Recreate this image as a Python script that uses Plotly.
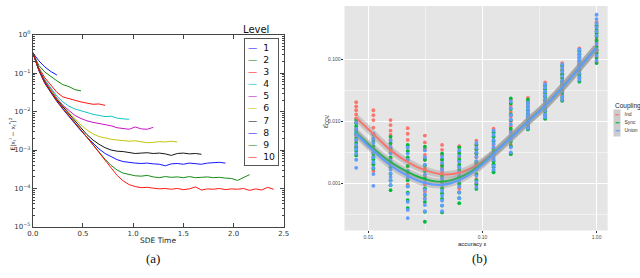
import plotly.graph_objects as go

# ---------------- panel (a) data ----------------
sde_time = [0.00, 0.06, 0.12, 0.18, 0.24, 0.30, 0.36, 0.42, 0.48, 0.54, 0.60, 0.66, 0.72, 0.78,
            0.84, 0.90, 0.96, 1.02, 1.08, 1.14, 1.20, 1.26, 1.32, 1.38, 1.44, 1.50, 1.56, 1.62,
            1.68, 1.74, 1.80, 1.86, 1.92, 1.98, 2.04, 2.10, 2.16, 2.22, 2.28, 2.34, 2.40]

level_1 = [0.339, 0.209, 0.145, 0.110, 0.0891]
level_2 = [0.339, 0.158, 0.107, 0.0813, 0.0631, 0.0501, 0.0447, 0.0372, 0.0347]
level_3 = [0.339, 0.138, 0.0759, 0.0479, 0.0316, 0.0240, 0.0214, 0.0195, 0.0178, 0.0166, 0.0155,
           0.0158, 0.0145]
level_4 = [0.339, 0.132, 0.0676, 0.0398, 0.0251, 0.0178, 0.0138, 0.0117, 0.0105, 0.00933, 0.00851,
           0.00794, 0.00741, 0.00759, 0.00676, 0.00646, 0.00631]
level_5 = [0.339, 0.129, 0.0631, 0.0363, 0.0224, 0.0145, 0.0105, 0.00794, 0.00661, 0.00575, 0.00525,
           0.00490, 0.00468, 0.00427, 0.00380, 0.00355, 0.00347, 0.00398, 0.00355, 0.00347, 0.00389]
level_6 = [0.339, 0.126, 0.0603, 0.0347, 0.0214, 0.0138, 0.00933, 0.00631, 0.00447, 0.00331, 0.00263,
           0.00224, 0.00204, 0.00191, 0.00182, 0.00174, 0.00170, 0.00174, 0.00162, 0.00155, 0.00158,
           0.00166, 0.00162, 0.00170, 0.00162]
level_7 = [0.339, 0.123, 0.0589, 0.0331, 0.0204, 0.0132, 0.00871, 0.00575, 0.00380, 0.00251, 0.00182,
           0.00141, 0.00115, 0.00100, 0.000933, 0.000912, 0.000871, 0.000813, 0.000832, 0.000851,
           0.000813, 0.000832, 0.000794, 0.000724, 0.000813, 0.000832, 0.000794, 0.000813, 0.000776]
level_8 = [0.339, 0.117, 0.0537, 0.0302, 0.0182, 0.0115, 0.00741, 0.00479, 0.00316, 0.00214, 0.00148,
           0.00107, 0.000813, 0.000661, 0.000562, 0.000501, 0.000468, 0.000457, 0.000447, 0.000457,
           0.000437, 0.000427, 0.000389, 0.000437, 0.000447, 0.000427, 0.000457, 0.000437, 0.000427,
           0.000457, 0.000468, 0.000479, 0.000457]
level_9 = [0.339, 0.120, 0.0562, 0.0316, 0.0191, 0.0120, 0.00794, 0.00513, 0.00331, 0.00214, 0.00138,
           0.000891, 0.000575, 0.000398, 0.000302, 0.000251, 0.000229, 0.000214, 0.000209, 0.000219,
           0.000200, 0.000191, 0.000204, 0.000195, 0.000200, 0.000191, 0.000204, 0.000191, 0.000195,
           0.000200, 0.000191, 0.000195, 0.000186, 0.000182, 0.000162, 0.000191, 0.000229]
level_10 = [0.339, 0.120, 0.0562, 0.0316, 0.0191, 0.0120, 0.00794, 0.00513, 0.00331, 0.00214, 0.00135,
            0.000851, 0.000525, 0.000331, 0.000219, 0.000158, 0.000126, 0.000112, 0.000105, 0.000107,
            0.000102, 9.77e-5, 1.00e-4, 9.55e-5, 1.00e-4, 9.33e-5, 9.77e-5, 1.10e-4, 9.12e-5, 9.77e-5,
            9.55e-5, 1.00e-4, 9.33e-5, 9.77e-5, 9.55e-5, 1.00e-4, 8.91e-5, 9.77e-5, 9.12e-5, 1.07e-4,
            9.55e-5]

levels = [level_1, level_2, level_3, level_4, level_5, level_6, level_7, level_8, level_9, level_10]
level_names = ["1", "2", "3", "4", "5", "6", "7", "8", "9", "10"]
level_colors = ["#0000ff", "#008000", "#ff0000", "#00bfbf", "#bf00bf", "#bfbf00", "#000000",
                "#0000ff", "#008000", "#ff0000"]

a_xticks = [0.0, 0.5, 1.0, 1.5, 2.0, 2.5]
a_xticktext = ["0.0", "0.5", "1.0", "1.5", "2.0", "2.5"]
a_yticks = [1e-5, 1e-4, 1e-3, 1e-2, 1e-1, 1e0]
a_yticktext = ["10<sup>−5</sup>", "10<sup>−4</sup>", "10<sup>−3</sup>", "10<sup>−2</sup>",
               "10<sup>−1</sup>", "10<sup>0</sup>"]

# ---------------- panel (b) data ----------------
accuracy = [0.0078125, 0.01105, 0.015625, 0.0221, 0.03125, 0.0442, 0.0625, 0.0884, 0.125,
            0.177, 0.25, 0.354, 0.5, 0.707, 1.0]

cov_ind = [
    [2.04e-2, 1.51e-2, 1.29e-2, 1.12e-2, 9.55e-3, 7.59e-3, 3.98e-3, 1.74e-2, 6.03e-3, 4.90e-3],
    [1.51e-2, 1.05e-2, 7.94e-3, 6.31e-3, 5.01e-3, 3.55e-3, 1.58e-3, 1.26e-2, 2.51e-3, 2.00e-3],
    [1.05e-2, 7.08e-3, 5.01e-3, 3.80e-3, 3.16e-3, 2.51e-3, 1.91e-3, 8.71e-3, 6.03e-3, 4.37e-3],
    [7.76e-3, 5.01e-3, 3.31e-3, 2.40e-3, 1.91e-3, 1.41e-3, 9.55e-4, 6.31e-3, 4.07e-3, 1.17e-3],
    [5.89e-3, 3.55e-3, 2.40e-3, 1.74e-3, 1.32e-3, 9.55e-4, 5.75e-4, 4.57e-3, 2.88e-3, 7.41e-4],
    [4.17e-3, 2.82e-3, 2.00e-3, 1.51e-3, 1.20e-3, 1.05e-3, 9.12e-4, 3.47e-3, 2.40e-3, 1.74e-3],
    [3.98e-3, 2.63e-3, 1.91e-3, 1.51e-3, 1.20e-3, 9.55e-4, 7.24e-4, 3.24e-3, 2.24e-3, 8.32e-4],
    [4.90e-3, 3.55e-3, 2.63e-3, 2.09e-3, 1.74e-3, 1.38e-3, 1.00e-3, 4.17e-3, 3.02e-3, 1.17e-3],
    [7.59e-3, 5.62e-3, 4.17e-3, 3.16e-3, 2.51e-3, 2.00e-3, 1.58e-3, 6.61e-3, 3.63e-3, 2.24e-3],
    [2.24e-2, 1.41e-2, 1.00e-2, 7.08e-3, 5.62e-3, 4.17e-3, 3.02e-3, 1.78e-2, 1.20e-2, 8.32e-3],
    [2.40e-2, 1.91e-2, 1.51e-2, 1.20e-2, 1.00e-2, 8.71e-3, 7.59e-3, 2.14e-2, 1.35e-2, 9.33e-3],
    [4.27e-2, 3.31e-2, 2.51e-2, 1.91e-2, 1.58e-2, 1.32e-2, 1.12e-2, 3.72e-2, 2.88e-2, 2.19e-2],
    [8.71e-2, 6.61e-2, 5.01e-2, 3.80e-2, 3.16e-2, 2.63e-2, 2.19e-2, 7.59e-2, 5.75e-2, 4.37e-2],
    [1.51e-1, 1.20e-1, 9.55e-2, 7.59e-2, 6.31e-2, 5.25e-2, 4.47e-2, 1.35e-1, 1.07e-1, 8.51e-2],
    [3.98e-1, 2.82e-1, 2.09e-1, 1.66e-1, 1.32e-1, 1.10e-1, 8.91e-2, 3.39e-1, 2.40e-1, 1.86e-1],
]
cov_sync = [
    [1.05e-2, 8.32e-3, 7.08e-3, 6.31e-3, 5.37e-3, 4.47e-3, 2.82e-3, 9.33e-3, 3.80e-3, 3.31e-3],
    [6.17e-3, 4.68e-3, 3.98e-3, 3.55e-3, 3.02e-3, 2.40e-3, 1.74e-3, 5.37e-3, 2.69e-3, 2.04e-3],
    [5.62e-3, 3.55e-3, 2.63e-3, 2.19e-3, 1.78e-3, 1.12e-3, 7.76e-4, 4.47e-3, 1.41e-3, 9.33e-4],
    [4.17e-3, 2.63e-3, 1.91e-3, 1.51e-3, 1.12e-3, 7.08e-4, 3.98e-4, 3.31e-3, 8.91e-4, 5.37e-4],
    [3.89e-3, 2.40e-3, 1.58e-3, 1.20e-3, 8.32e-4, 5.01e-4, 2.40e-4, 1.95e-3, 6.46e-4, 3.47e-4],
    [3.02e-3, 1.91e-3, 1.32e-3, 1.05e-3, 8.32e-4, 5.62e-4, 3.39e-4, 2.40e-3, 6.92e-4, 4.37e-4],
    [3.80e-3, 2.40e-3, 1.66e-3, 1.26e-3, 1.00e-3, 7.08e-4, 4.79e-4, 3.02e-3, 2.00e-3, 5.75e-4],
    [4.17e-3, 3.02e-3, 2.24e-3, 1.78e-3, 1.41e-3, 1.12e-3, 8.13e-4, 3.55e-3, 2.00e-3, 9.55e-4],
    [6.61e-3, 4.79e-3, 3.63e-3, 2.88e-3, 2.29e-3, 1.82e-3, 1.51e-3, 5.62e-3, 3.24e-3, 2.04e-3],
    [2.34e-2, 1.58e-2, 1.05e-2, 7.59e-3, 5.50e-3, 3.98e-3, 2.95e-3, 1.95e-2, 1.29e-2, 4.68e-3],
    [2.24e-2, 1.74e-2, 1.32e-2, 1.10e-2, 9.33e-3, 8.32e-3, 7.41e-3, 2.00e-2, 1.51e-2, 1.20e-2],
    [3.80e-2, 2.88e-2, 2.19e-2, 1.78e-2, 1.45e-2, 1.26e-2, 1.10e-2, 3.31e-2, 2.51e-2, 1.58e-2],
    [7.94e-2, 5.75e-2, 4.37e-2, 3.47e-2, 2.88e-2, 2.40e-2, 2.14e-2, 6.76e-2, 5.01e-2, 3.89e-2],
    [1.38e-1, 1.05e-1, 8.32e-2, 6.92e-2, 5.75e-2, 5.01e-2, 4.37e-2, 1.20e-1, 9.33e-2, 7.59e-2],
    [3.55e-1, 2.63e-1, 2.00e-1, 1.58e-1, 1.26e-1, 1.05e-1, 8.71e-2, 3.02e-1, 2.29e-1, 1.41e-1],
]
cov_union = [
    [9.55e-3, 7.59e-3, 6.61e-3, 6.03e-3, 5.01e-3, 3.55e-3, 1.78e-3, 4.17e-3, 3.02e-3, 2.40e-3],
    [6.31e-3, 4.47e-3, 3.63e-3, 3.16e-3, 2.63e-3, 1.78e-3, 9.12e-4, 5.25e-3, 2.19e-3, 1.41e-3],
    [4.90e-3, 3.02e-3, 2.34e-3, 2.00e-3, 1.66e-3, 1.26e-3, 9.33e-4, 3.89e-3, 1.45e-3, 1.10e-3],
    [3.80e-3, 2.40e-3, 1.58e-3, 1.26e-3, 8.91e-4, 5.01e-4, 2.75e-4, 3.02e-3, 6.76e-4, 3.72e-4],
    [3.39e-3, 2.00e-3, 1.38e-3, 1.05e-3, 7.94e-4, 5.62e-4, 3.55e-4, 2.63e-3, 6.61e-4, 4.47e-4],
    [2.69e-3, 1.66e-3, 1.20e-3, 9.55e-4, 7.59e-4, 5.25e-4, 3.55e-4, 2.14e-3, 6.31e-4, 4.37e-4],
    [3.39e-3, 2.24e-3, 1.51e-3, 1.12e-3, 8.91e-4, 7.08e-4, 5.75e-4, 2.75e-3, 1.82e-3, 1.32e-3],
    [4.47e-3, 3.16e-3, 2.29e-3, 1.66e-3, 1.32e-3, 1.05e-3, 8.71e-4, 3.72e-3, 2.69e-3, 1.95e-3],
    [7.08e-3, 5.01e-3, 3.80e-3, 3.02e-3, 2.40e-3, 1.91e-3, 1.66e-3, 6.03e-3, 4.37e-3, 2.69e-3],
    [2.09e-2, 1.26e-2, 8.91e-3, 6.61e-3, 5.01e-3, 3.80e-3, 3.16e-3, 1.62e-2, 1.07e-2, 5.75e-3],
    [2.00e-2, 1.58e-2, 1.26e-2, 1.05e-2, 9.12e-3, 7.94e-3, 7.76e-3, 1.78e-2, 1.41e-2, 1.15e-2],
    [3.98e-2, 3.02e-2, 2.29e-2, 1.74e-2, 1.51e-2, 1.29e-2, 1.17e-2, 3.47e-2, 2.63e-2, 2.00e-2],
    [8.32e-2, 6.31e-2, 4.57e-2, 3.63e-2, 3.02e-2, 2.51e-2, 2.24e-2, 7.24e-2, 5.37e-2, 4.07e-2],
    [1.45e-1, 1.12e-1, 8.91e-2, 7.24e-2, 6.03e-2, 5.13e-2, 4.68e-2, 1.26e-1, 1.00e-1, 7.94e-2],
    [5.25e-1, 3.31e-1, 2.40e-1, 1.78e-1, 1.41e-1, 1.15e-1, 9.55e-2, 4.47e-1, 3.80e-1, 2.82e-1],
]

smooth_ind = [0.0114, 0.00624, 0.00343, 0.00220, 0.00163, 0.00140, 0.00148, 0.00195, 0.00304,
              0.00553, 0.0101, 0.0179, 0.0353, 0.0741, 0.157]
smooth_sync = [0.00662, 0.00364, 0.00220, 0.00152, 0.00117, 0.00106, 0.00124, 0.00177, 0.00304,
               0.00547, 0.00994, 0.0179, 0.0349, 0.0733, 0.156]
smooth_union = [0.00638, 0.00335, 0.00195, 0.00132, 0.00101, 0.000942, 0.00113, 0.00167, 0.00297,
                0.00540, 0.00982, 0.0177, 0.0349, 0.0733, 0.156]

coupling_names = ["Ind", "Sync", "Union"]
coupling_colors = ["#F8766D", "#00BA38", "#619CFF"]

b_xticks = [0.01, 0.1, 1.0]
b_xticktext = ["0.01", "0.10", "1.00"]
b_yticks = [0.001, 0.01, 0.1]
b_yticktext = ["0.001", "0.010", "0.100"]

# ---------------- figure ----------------
fig = go.Figure()

for name, vals, col in zip(level_names, levels, level_colors):
    fig.add_trace(go.Scatter(x=sde_time[:len(vals)], y=vals, mode="lines", name=name,
                             line=dict(color=col, width=1), opacity=0.9,
                             xaxis="x", yaxis="y", showlegend=False))

for name, groups, col in zip(coupling_names, [cov_ind, cov_sync, cov_union], coupling_colors):
    xs = [e for e, g in zip(accuracy, groups) for _ in g]
    ys = [v for g in groups for v in g]
    fig.add_trace(go.Scatter(x=xs, y=ys, mode="markers", name=name,
                             marker=dict(color=col, size=3.8, line=dict(width=0)),
                             xaxis="x2", yaxis="y2", showlegend=False))

for name, sm, col in zip(coupling_names, [smooth_ind, smooth_sync, smooth_union], coupling_colors):
    fig.add_trace(go.Scatter(x=accuracy, y=sm, mode="lines", line=dict(color="rgba(150,150,150,0.4)",
                             width=7, shape="spline"), xaxis="x2", yaxis="y2",
                             showlegend=False, hoverinfo="skip"))
    fig.add_trace(go.Scatter(x=accuracy, y=sm, mode="lines", name=name + " fit",
                             line=dict(color=col, width=2, shape="spline"),
                             xaxis="x2", yaxis="y2", showlegend=False))

frame = "#444444"
fig.update_layout(
    width=640, height=278, margin=dict(l=0, r=0, t=0, b=0),
    paper_bgcolor="white", plot_bgcolor="white", showlegend=False,
    xaxis=dict(domain=[0.0427, 0.4422], range=[0, 2.5], anchor="y",
               tickmode="array", tickvals=a_xticks, ticktext=a_xticktext,
               ticks="inside", ticklen=4, tickcolor=frame, mirror="ticks",
               showline=True, linecolor=frame, linewidth=1, showgrid=False, zeroline=False,
               tickfont=dict(family="DejaVu Sans", size=7, color="#333")),
    yaxis=dict(domain=[0.175, 0.8896], type="log", range=[-5, 0], anchor="x",
               tickmode="array", tickvals=a_yticks, ticktext=a_yticktext,
               ticks="inside", ticklen=4, tickcolor=frame, mirror="ticks",
               showline=True, linecolor=frame, linewidth=1, showgrid=False, zeroline=False,
               minor=dict(ticks="inside", ticklen=2, tickcolor=frame, dtick="D1", showgrid=False),
               tickfont=dict(family="DejaVu Sans", size=7, color="#333")),
    xaxis2=dict(domain=[0.539, 0.958], type="log", range=[-2.21, 0.097], anchor="y2",
                tickmode="array", tickvals=b_xticks, ticktext=b_xticktext,
                ticks="outside", ticklen=2, tickcolor="#333", showline=False, zeroline=False,
                showgrid=True, gridcolor="white", gridwidth=1,
                minor=dict(tickvals=[0.0316, 0.316], showgrid=True, gridcolor="#F2F2F2",
                           gridwidth=0.6),
                tickfont=dict(family="Liberation Sans", size=5, color="#4D4D4D")),
    yaxis2=dict(domain=[0.162, 0.996], type="log", range=[-3.76, -0.14], anchor="x2",
                tickmode="array", tickvals=b_yticks, ticktext=b_yticktext,
                ticks="outside", ticklen=2, tickcolor="#333", showline=False, zeroline=False,
                showgrid=True, gridcolor="white", gridwidth=1,
                minor=dict(tickvals=[0.000316, 0.00316, 0.0316], showgrid=True,
                           gridcolor="#F2F2F2", gridwidth=0.6),
                tickfont=dict(family="Liberation Sans", size=5, color="#4D4D4D")),
    shapes=[dict(type="rect", xref="x2 domain", yref="y2 domain", x0=0, x1=1, y0=0, y1=1,
                 fillcolor="#E5E5E5", line=dict(width=0), layer="below")],
)

def px(x):
    return x / 640.0

def py(y):
    return 1 - y / 278.0

legend_lines = "<br>".join(
    f'<span style="color:{c}">—</span>\u00a0\u00a0{n}'
    for n, c in zip(level_names, level_colors))

keys = "<br>".join(f'<span style="color:{c}">━</span>' for c in coupling_colors)
labels = "<br>".join(f'<span style="font-size:5px">{n}</span>' for n in coupling_names)

def label(text, x, y, size, family, xanchor="center", yanchor="middle", angle=0, color="#222"):
    return dict(text=text, x=px(x), y=py(y), xref="paper", yref="paper", showarrow=False,
                xanchor=xanchor, yanchor=yanchor, textangle=angle,
                font=dict(family=family, size=size, color=color))

annotations = [
    label("Level", 255, 25, 10, "DejaVu Sans", color="#111"),
    dict(text=legend_lines, x=px(278), y=py(34), xref="paper", yref="paper", xanchor="right",
         yanchor="top", showarrow=False, align="left", bgcolor="white", bordercolor="#555",
         borderwidth=1, borderpad=3, font=dict(family="DejaVu Sans", size=9.3, color="#111")),
    label("E|x<sub>t</sub><sup>l</sup> − x<sub>t</sub><sup>*</sup>|<sup>2</sup>", 7, 133, 6,
          "DejaVu Sans", angle=-90),
    label("SDE Time", 155, 243.5, 7.5, "DejaVu Sans"),
    label("(a)", 150, 262, 13, "Liberation Serif", color="#111"),
    label("(b)", 483, 262, 13, "Liberation Serif", color="#111"),
    label("accuracy ε", 475, 247, 6, "Liberation Sans"),
    label("ε̂<sub>COV.</sub>", 326, 120, 6.5, "Liberation Sans", angle=-90),
    label("Coupling", 619, 104, 6.5, "Liberation Sans", xanchor="left"),
    dict(text=keys, x=px(619), y=py(107), xref="paper", yref="paper", showarrow=False,
         xanchor="left", yanchor="top", bgcolor="#CCCCCC", borderpad=0.5,
         font=dict(family="DejaVu Sans", size=6.5)),
    dict(text=labels, x=px(629), y=py(107), xref="paper", yref="paper", showarrow=False,
         xanchor="left", yanchor="top", align="left", borderpad=0.5,
         font=dict(family="Liberation Sans", size=6.5, color="#333")),
]
fig.update_layout(annotations=annotations)

fig.write_html("out.html", config={"displayModeBar": False},
               post_script="document.body.style.margin='0';document.body.style.padding='0';"
                           "document.body.style.overflow='hidden';")
